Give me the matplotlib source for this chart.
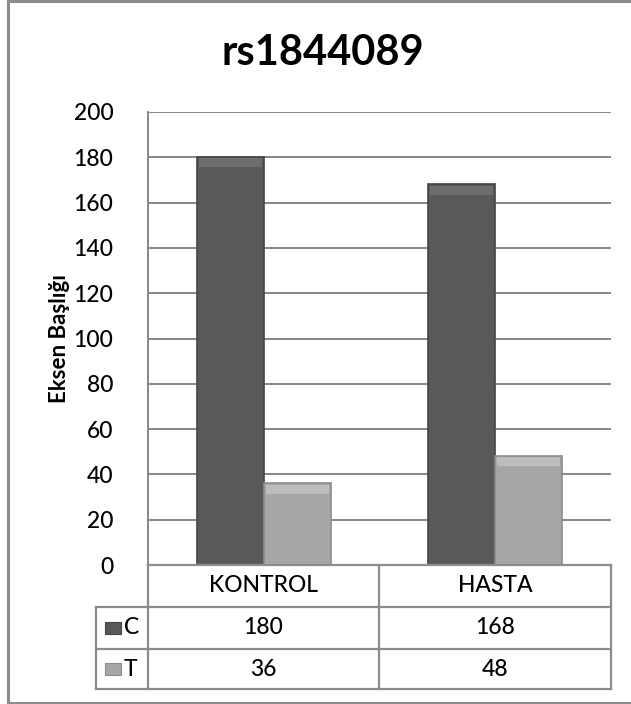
import matplotlib
matplotlib.use("Agg")
import matplotlib.pyplot as plt
from matplotlib.lines import Line2D
from matplotlib.patches import Rectangle

# dados
grupos = ["KONTROL", "HASTA"]
alelos = ["C", "T"]
valores_C = [180, 168]
valores_T = [36, 48]
titulo = "rs1844089"
rotulo_y = "Eksen Başlığı"

plt.rcParams["font.family"] = ["Lato", "DejaVu Sans"]
plt.rcParams["font.weight"] = "medium"

W, H = 631, 704
fig = plt.figure(figsize=(W / 100, H / 100), dpi=100)

def fx(px):
    return px / W

def fy(py):
    return 1 - py / H

cinza = "#8c8c8c"
tam = 16.5

# moldura externa (lado direito fica fora da imagem)
for xs, ys in [([8, 8], [1, 703]), ([8, 640], [1, 1]), ([8, 640], [703, 703])]:
    fig.add_artist(Line2D([fx(x) for x in xs], [fy(y) for y in ys],
                          color=cinza, lw=2.2))

# area do grafico
x0, x1, y0, y1 = 148, 611, 112, 565
ax = fig.add_axes([fx(x0), fy(y1), fx(x1) - fx(x0), fy(y0) - fy(y1)])
ax.set_ylim(0, 200)
ax.set_xlim(0, len(grupos))
ax.set_yticks(range(0, 201, 20))
ax.set_xticks([])
ax.yaxis.grid(True, color="#868686", lw=1.4)
ax.set_axisbelow(True)
for s in ["top", "right", "bottom"]:
    ax.spines[s].set_visible(False)
ax.spines["left"].set_color("#868686")
ax.spines["left"].set_linewidth(1.4)
ax.tick_params(axis="y", length=0, pad=25, labelsize=tam, labelcolor="black")

largura = 0.29
posicoes = [i + 0.5 for i in range(len(grupos))]
cores = {"C": "#595959", "T": "#a6a6a6"}
bordas = {"C": "#454545", "T": "#8c8c8c"}
topos = {"C": "#6e6e6e", "T": "#bdbdbd"}

for serie, vals, desl in [("C", valores_C, -largura / 2), ("T", valores_T, largura / 2)]:
    xs = [p + desl for p in posicoes]
    ax.bar(xs, vals, width=largura, color=cores[serie], edgecolor=bordas[serie],
           linewidth=1.2, zorder=3)
    # faixa clara no topo imitando o chanfro do Excel
    ax.bar(xs, [4.0] * len(vals), bottom=[v - 4.5 for v in vals], width=largura * 0.94,
           color=topos[serie], linewidth=0, zorder=4)

fig.text(fx(60), fy(339), rotulo_y, rotation=90, ha="center", va="center",
         fontsize=16, fontweight="bold")

fig.text(fx(323), fy(53), titulo, ha="center", va="center",
         fontsize=30, fontweight="bold")

# tabela de dados
col_x = [96, 148, 379, 611]
lin_y = [565, 607, 649, 689]
lw_t = 1.6
# linhas horizontais
fig.add_artist(Line2D([fx(148), fx(611)], [fy(565), fy(565)], color=cinza, lw=lw_t))
for y in lin_y[1:]:
    fig.add_artist(Line2D([fx(96), fx(611)], [fy(y), fy(y)], color=cinza, lw=lw_t))
# linhas verticais
fig.add_artist(Line2D([fx(96), fx(96)], [fy(607), fy(689)], color=cinza, lw=lw_t))
for x in col_x[1:]:
    fig.add_artist(Line2D([fx(x), fx(x)], [fy(565), fy(689)], color=cinza, lw=lw_t))

for j, g in enumerate(grupos):
    cx = (col_x[j + 1] + col_x[j + 2]) / 2
    fig.text(fx(cx), fy((lin_y[0] + lin_y[1]) / 2), g, ha="center", va="center",
             fontsize=tam)

for i, (serie, vals) in enumerate([("C", valores_C), ("T", valores_T)]):
    cy = (lin_y[i + 1] + lin_y[i + 2]) / 2
    fig.add_artist(Rectangle((fx(105), fy(cy + 6)), fx(16), fy(0) - fy(12),
                             facecolor=cores[serie], edgecolor=bordas[serie], lw=0.8))
    fig.text(fx(124), fy(cy), serie, ha="left", va="center", fontsize=tam)
    for j, v in enumerate(vals):
        cx = (col_x[j + 1] + col_x[j + 2]) / 2
        fig.text(fx(cx), fy(cy), str(v), ha="center", va="center", fontsize=tam)

fig.savefig("out.png", dpi=100)
